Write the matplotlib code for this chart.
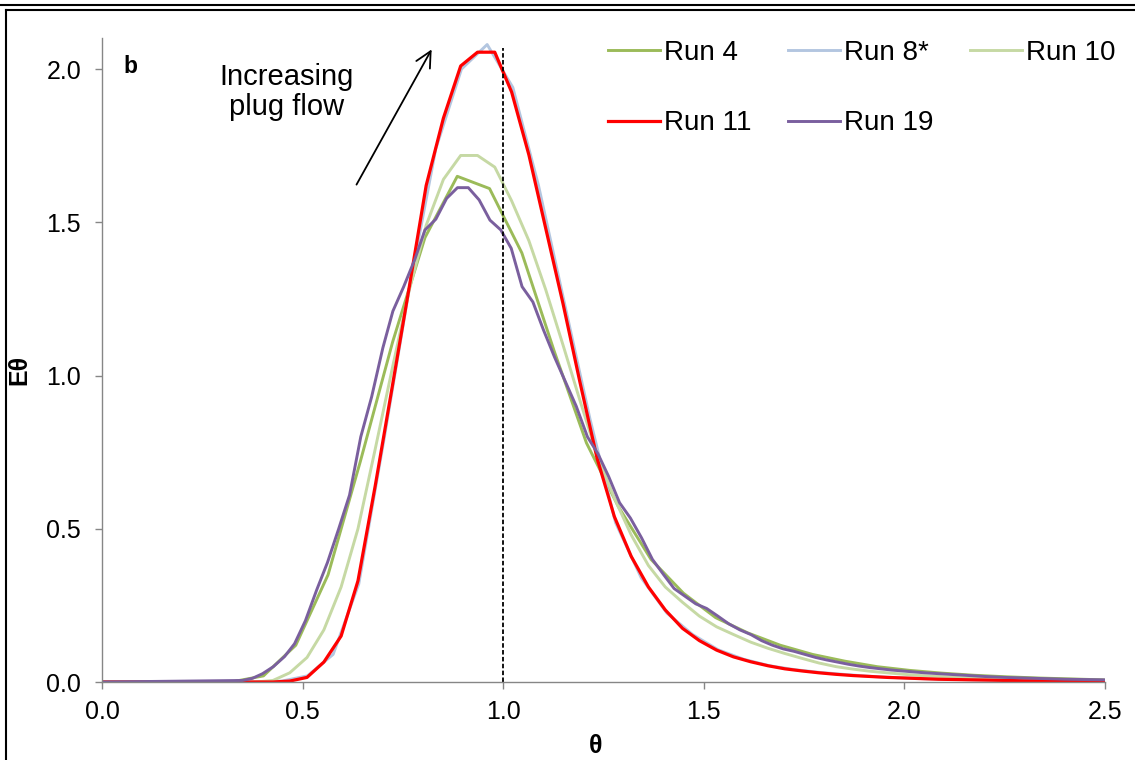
import matplotlib
matplotlib.use("Agg")
import matplotlib.pyplot as plt
from matplotlib.lines import Line2D

plt.rcParams['font.family'] = ['Liberation Sans', 'DejaVu Sans']

# sampling grids (dimensionless time) for each run
theta_a = [0.0, 0.383, 0.426, 0.468, 0.511, 0.553, 0.596, 0.638, 0.681, 0.723,
           0.766, 0.808, 0.851, 0.894, 0.936, 0.979, 1.021, 1.064, 1.106, 1.149,
           1.191, 1.234, 1.277, 1.319, 1.362, 1.404, 1.447, 1.489, 1.532, 1.574,
           1.617, 1.660, 1.702, 1.745, 1.787, 1.830, 1.872, 1.915, 1.957, 2.000,
           2.042, 2.085, 2.128, 2.170, 2.213, 2.255, 2.298, 2.340, 2.383, 2.425,
           2.468, 2.5]
theta_b = [0.0, 0.384, 0.448, 0.512, 0.576, 0.64, 0.704, 0.768, 0.832, 0.896,
           0.96, 1.024, 1.088, 1.152, 1.216, 1.28, 1.344, 1.408, 1.472, 1.536,
           1.6, 1.664, 1.728, 1.792, 1.856, 1.92, 1.984, 2.048, 2.112, 2.176,
           2.24, 2.304, 2.368, 2.432, 2.496]
theta_c = [0.0, 0.322, 0.4025, 0.483, 0.5635, 0.644, 0.7245, 0.805, 0.8855, 0.966,
           1.0465, 1.127, 1.2075, 1.288, 1.3685, 1.449, 1.5295, 1.61, 1.6905, 1.771,
           1.8515, 1.932, 2.0125, 2.093, 2.1735, 2.254, 2.3345, 2.415, 2.4955]
theta_d = [0.0, 0.35, 0.375, 0.40, 0.427, 0.455, 0.48, 0.507, 0.535, 0.562,
           0.59, 0.617, 0.645, 0.672, 0.70, 0.725, 0.752, 0.78, 0.805, 0.832,
           0.859, 0.886, 0.913, 0.94, 0.967, 0.994, 1.02, 1.047, 1.074, 1.10,
           1.128, 1.155, 1.182, 1.21, 1.236, 1.263, 1.29, 1.317, 1.345, 1.372,
           1.40, 1.426, 1.453, 1.48, 1.507, 1.535, 1.562, 1.59, 1.617, 1.644,
           1.671, 1.698, 1.725, 1.752, 1.779, 1.806, 1.833, 1.86, 1.887, 1.914,
           1.941, 1.968, 1.995, 2.05, 2.1, 2.15, 2.2, 2.25, 2.3, 2.35,
           2.4, 2.45, 2.5]

run4 = [0, 0, 0.02, 0.12, 0.35, 0.72, 1.11, 1.45, 1.65, 1.61,
        1.40, 1.08, 0.78, 0.57, 0.40, 0.29, 0.21, 0.16, 0.12, 0.09,
        0.068, 0.05, 0.038, 0.029, 0.022, 0.017, 0.013, 0.010, 0.007]
run8 = [0, 0, 0.003, 0.02, 0.09, 0.32, 0.80, 1.30, 1.74, 2.00,
        2.08, 1.94, 1.62, 1.24, 0.86, 0.52, 0.34, 0.225, 0.155, 0.105,
        0.074, 0.053, 0.040, 0.031, 0.024, 0.018, 0.014, 0.011, 0.009, 0.007,
        0.006, 0.005, 0.004, 0.003, 0.003]
run10 = [0, 0, 0.005, 0.03, 0.08, 0.17, 0.31, 0.50, 0.76, 1.02,
         1.28, 1.49, 1.64, 1.718, 1.718, 1.68, 1.57, 1.44, 1.28, 1.10,
         0.92, 0.74, 0.60, 0.48, 0.38, 0.31, 0.26, 0.215, 0.18, 0.155,
         0.13, 0.11, 0.093, 0.077, 0.062, 0.050, 0.042, 0.035, 0.030, 0.025,
         0.021, 0.018, 0.015, 0.013, 0.011, 0.009, 0.008, 0.007, 0.006, 0.005,
         0.004, 0.004]
run11 = [0, 0, 0.0, 0.003, 0.015, 0.065, 0.15, 0.33, 0.64, 0.96,
         1.29, 1.62, 1.84, 2.01, 2.055, 2.055, 1.925, 1.72, 1.48, 1.235,
         0.98, 0.73, 0.54, 0.41, 0.31, 0.235, 0.175, 0.135, 0.104, 0.082,
         0.066, 0.053, 0.043, 0.036, 0.030, 0.025, 0.021, 0.018, 0.015, 0.013,
         0.011, 0.009, 0.008, 0.007, 0.006, 0.005, 0.004, 0.004, 0.003, 0.003,
         0.002, 0.002]
run19 = [0, 0.005, 0.012, 0.027, 0.05, 0.083, 0.125, 0.20, 0.30, 0.39,
         0.50, 0.61, 0.80, 0.93, 1.09, 1.21, 1.29, 1.38, 1.475, 1.51,
         1.578, 1.613, 1.613, 1.573, 1.507, 1.475, 1.415, 1.29, 1.24, 1.15,
         1.06, 0.98, 0.90, 0.80, 0.745, 0.67, 0.585, 0.535, 0.47, 0.40,
         0.35, 0.305, 0.28, 0.255, 0.24, 0.215, 0.19, 0.17, 0.155, 0.135,
         0.12, 0.108, 0.10, 0.09, 0.08, 0.072, 0.065, 0.058, 0.052, 0.047,
         0.043, 0.039, 0.036, 0.030, 0.026, 0.022, 0.018, 0.015, 0.013, 0.011,
         0.009, 0.008, 0.007]

W, H = 1135, 760
fig = plt.figure(figsize=(W / 100, H / 100), dpi=100)
ax = fig.add_axes([102 / W, 1 - 682 / H, (1105 - 102) / W, (682 - 38.4) / H])

l4, = ax.plot(theta_c, run4, color='#9BBB59', lw=2.1, label='Run 4')
l8, = ax.plot(theta_b, run8, color='#B3C6E0', lw=2.1, label='Run 8*')
l10, = ax.plot(theta_a, run10, color='#C6D9A4', lw=2.1, label='Run 10')
l11, = ax.plot(theta_a, run11, color='#FF0000', lw=2.3, label='Run 11')
l19, = ax.plot(theta_d, run19, color='#7A5F9E', lw=2.1, label='Run 19')

ax.axvline(1.0, ymax=2.068 / 2.1, color='black', lw=1.3, linestyle=(0, (2.5, 1.3)))

ax.set_xlim(0, 2.5)
ax.set_ylim(0, 2.1)
ax.set_xticks([0.0, 0.5, 1.0, 1.5, 2.0, 2.5])
ax.set_yticks([0.0, 0.5, 1.0, 1.5, 2.0])
ax.set_xticklabels(['0.0', '0.5', '1.0', '1.5', '2.0', '2.5'])
ax.set_yticklabels(['0.0', '0.5', '1.0', '1.5', '2.0'])
for s in ['top', 'right']:
    ax.spines[s].set_visible(False)
for s in ['left', 'bottom']:
    ax.spines[s].set_color('#868686')
    ax.spines[s].set_linewidth(1.0)
ax.tick_params(axis='both', direction='out', length=5, width=1.0, color='#868686',
               labelsize=18)
ax.tick_params(axis='y', pad=10)
ax.tick_params(axis='x', pad=8)

ax.text(123 / W, 1 - 73 / H, 'b', transform=fig.transFigure, fontsize=16.5,
        fontweight='bold', ha='left', va='baseline')
ax.text(0.461, 1.925, 'Increasing\nplug flow', fontsize=21, ha='center', va='center',
        multialignment='center', linespacing=1.12)
ax.annotate('', xy=(0.825, 2.072), xytext=(0.631, 1.615),
            arrowprops=dict(arrowstyle='->', lw=1.3, color='black', mutation_scale=28))

fig.text(596 / W, 1 - 746 / H, 'θ', fontsize=18, fontweight='bold', ha='center', va='center')
fig.text(19 / W, 1 - 370 / H, 'Eθ', fontsize=18, fontweight='bold', ha='center',
         va='center', rotation=90)

leg = ax.legend([l4, l11, l8, l19, l10], ['Run 4', 'Run 11', 'Run 8*', 'Run 19', 'Run 10'],
                ncol=3, frameon=False, fontsize=20, handlelength=1.87, handletextpad=0.15,
                columnspacing=1.31, labelspacing=1.6, borderpad=0, borderaxespad=0,
                loc='upper right', bbox_to_anchor=(1116 / W, 1 - 40 / H),
                bbox_transform=fig.transFigure)

# outer frame of the figure panel
fig.add_artist(Line2D([0, 1], [1 - 4.5 / H, 1 - 4.5 / H], transform=fig.transFigure,
                      color='black', lw=1.5))
fig.add_artist(Line2D([6 / W, 1], [1 - 9.5 / H, 1 - 9.5 / H], transform=fig.transFigure,
                      color='black', lw=1.5))
fig.add_artist(Line2D([6 / W, 6 / W], [0, 1 - 9.5 / H], transform=fig.transFigure,
                      color='black', lw=1.5))

fig.savefig('out.png', dpi=100)
